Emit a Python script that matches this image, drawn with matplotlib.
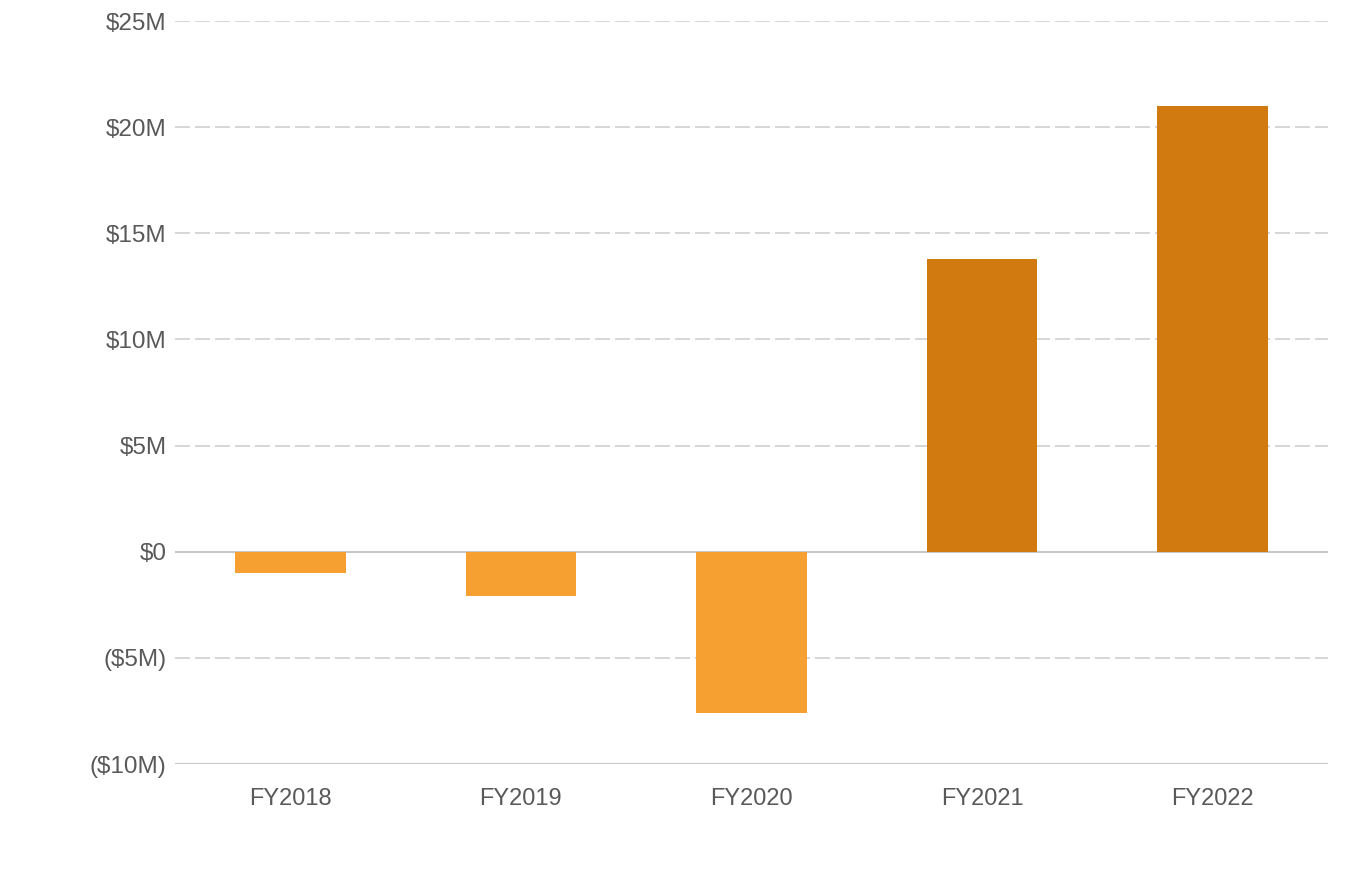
import matplotlib
matplotlib.use("Agg")
import matplotlib.pyplot as plt
from matplotlib.ticker import FuncFormatter

categories = ["FY2018", "FY2019", "FY2020", "FY2021", "FY2022"]
values_m = [-1.0, -2.1, -7.6, 13.8, 21.0]
yticks = [-10, -5, 0, 5, 10, 15, 20, 25]

neg_color = "#F5A030"
pos_color = "#D07A10"

plt.rcParams["font.family"] = ["Liberation Sans", "DejaVu Sans"]

fig = plt.figure(figsize=(13.5, 8.72), dpi=100)
ax = fig.add_axes([175/1350, 1-764/872, (1328-175)/1350, (764-21)/872])

colors = [pos_color if v >= 0 else neg_color for v in values_m]
x = list(range(len(categories)))
ax.bar(x, values_m, width=0.48, color=colors, zorder=3)

ax.set_xlim(-0.5, len(categories) - 0.5)
ax.set_ylim(-10, 25)
ax.set_yticks(yticks)

def fmt(v, pos):
    v = int(round(v))
    if v < 0:
        return f"(${-v}M)"
    if v == 0:
        return "$0"
    return f"${v}M"

ax.yaxis.set_major_formatter(FuncFormatter(fmt))
ax.set_xticks(x)
ax.set_xticklabels(categories)

for t in yticks:
    if t in (0, -10):
        ax.axhline(t, color="#C8C8C8", lw=1.5, zorder=2)
    else:
        ax.axhline(t, color="#D0D0D0", lw=1.2, ls=(0, (9, 3)), zorder=1)

for s in ax.spines.values():
    s.set_visible(False)
ax.tick_params(axis="both", length=0, colors="#595959")
ax.tick_params(axis="y", pad=6, labelsize=17.5)
ax.tick_params(axis="x", pad=17, labelsize=17)

fig.savefig("out.png", dpi=100, facecolor="white")
